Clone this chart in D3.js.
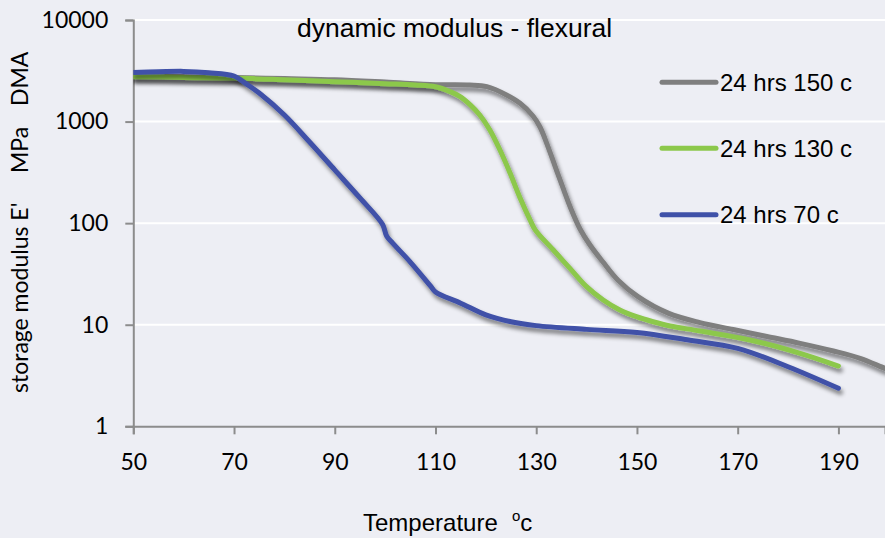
<!DOCTYPE html>
<html>
<head>
<meta charset="utf-8">
<script src="https://cdn.jsdelivr.net/npm/d3@7"></script>
<style>
  html, body { margin: 0; padding: 0; background: #EDEEF4; }
  svg { display: block; }
</style>
</head>
<body>
<svg id="chart" width="885" height="538"></svg>
<script>
// Storage modulus E' (MPa) against temperature (°C), log scale
const tempsGray  = [50, 60, 70, 80, 90, 100, 110, 116.8, 120.2, 124.1, 126.8, 129.36, 130.75, 132.14, 133.73, 135.32, 136.91, 138.7, 140.68, 143.26, 146.2, 150.2, 156.2, 162.5, 169.1, 175.8, 182.4, 189, 194.3, 199.2, 201];
const modGray    = [2800, 2760, 2720, 2650, 2580, 2450, 2310, 2290, 2205, 1827, 1513, 1134, 884, 601, 365, 222, 138, 87.6, 60.9, 41.4, 27.6, 18.9, 13.0, 10.5, 8.97, 7.66, 6.56, 5.51, 4.67, 3.72, 3.45];

const tempsGreen = [50, 60, 70, 80, 90, 100, 106, 110, 112.9, 114.9, 116.9, 118.8, 120.8, 122.8, 124.8, 126.8, 128.8, 129.8, 133.4, 136.7, 140.0, 143.3, 146.6, 149.9, 153.2, 156.6, 162.5, 172.4, 182.4, 190];
const modGreen   = [2770, 2720, 2680, 2580, 2470, 2360, 2290, 2200, 1970, 1760, 1460, 1160, 826, 525, 312, 177, 107, 86, 54.4, 35.9, 23.7, 17.5, 13.96, 12.0, 10.7, 9.71, 8.68, 7.08, 5.23, 3.92];

const tempsBlue  = [50, 55, 60, 65, 70, 72.5, 75, 80, 85, 90, 95, 99.5, 100.3, 101.5, 105, 109, 110, 115, 120, 125, 130, 140, 150, 160, 170, 180, 190];
const modBlue    = [3050, 3090, 3120, 3030, 2810, 2340, 1910, 1160, 629, 334, 177, 97, 74.7, 63.6, 41.4, 24.1, 21, 16.3, 12.5, 10.7, 9.8, 9.0, 8.4, 7.1, 5.85, 3.86, 2.37];

const seriesNames  = ["24 hrs 150 c", "24 hrs 130 c", "24 hrs 70 c"];
const seriesColors = ["#7F7F7F", "#8CC84B", "#3F51A8"];

const xTicks = [50, 70, 90, 110, 130, 150, 170, 190];
const yTicks = [1, 10, 100, 1000, 10000];

const series = [
  { name: seriesNames[0], color: seriesColors[0], t: tempsGray,  v: modGray },
  { name: seriesNames[1], color: seriesColors[1], t: tempsGreen, v: modGreen },
  { name: seriesNames[2], color: seriesColors[2], t: tempsBlue,  v: modBlue }
];

const W = 885, H = 538;
const plotLeft = 133.3, plotRight = 885, plotTop = 20, plotBottom = 426.3;

const svg = d3.select("#chart");

const x = d3.scaleLinear().domain([50, 199.25]).range([plotLeft, plotRight]);
const y = d3.scaleLog().domain([1, 10000]).range([plotBottom, plotTop]);

const defs = svg.append("defs");
const f = defs.append("filter").attr("id", "shadow")
  .attr("x", "-10%").attr("y", "-10%").attr("width", "130%").attr("height", "140%");
f.append("feGaussianBlur").attr("in", "SourceAlpha").attr("stdDeviation", 2.2).attr("result", "b");
f.append("feOffset").attr("in", "b").attr("dx", 2).attr("dy", 4).attr("result", "o");
f.append("feComponentTransfer").attr("in", "o").attr("result", "s")
  .append("feFuncA").attr("type", "linear").attr("slope", 0.5);
const m = f.append("feMerge");
m.append("feMergeNode").attr("in", "s");
m.append("feMergeNode").attr("in", "SourceGraphic");

defs.append("clipPath").attr("id", "plot")
  .append("rect").attr("x", plotLeft).attr("y", 0).attr("width", plotRight - plotLeft).attr("height", plotBottom + 10);

svg.append("rect").attr("width", W).attr("height", H).attr("fill", "#EDEEF4");

// horizontal gridlines
svg.append("g")
  .selectAll("line")
  .data(yTicks.slice(1))
  .join("line")
  .attr("x1", plotLeft).attr("x2", plotRight)
  .attr("y1", d => y(d)).attr("y2", d => y(d))
  .attr("stroke", "#FFFFFF").attr("stroke-width", 2);

// axes
const axisColor = "#8C8C8C";
const tickFont = "Lato, 'Open Sans', sans-serif";

const yAxis = svg.append("g")
  .attr("transform", `translate(${plotLeft},0)`)
  .call(d3.axisLeft(y).tickValues(yTicks).tickFormat(d3.format("d")).tickSizeOuter(0).tickSize(8).tickPadding(17));
yAxis.select(".domain").attr("stroke", axisColor).attr("stroke-width", 2);
yAxis.selectAll(".tick line").attr("stroke", axisColor).attr("stroke-width", 2);
yAxis.selectAll(".tick text").attr("font-family", tickFont).attr("font-size", 23).attr("fill", "#000");

const xAxis = svg.append("g")
  .attr("transform", `translate(0,${plotBottom})`)
  .call(d3.axisBottom(x).tickValues(xTicks).tickFormat(d3.format("d")).tickSizeOuter(0).tickSize(8).tickPadding(19));
xAxis.select(".domain").attr("stroke", axisColor).attr("stroke-width", 2);
xAxis.selectAll(".tick line").attr("stroke", axisColor).attr("stroke-width", 2);
xAxis.selectAll(".tick text").attr("font-family", tickFont).attr("font-size", 23).attr("fill", "#000");

// curves
const line = d3.line()
  .x(d => x(d[0]))
  .y(d => y(d[1]))
  .curve(d3.curveCatmullRom.alpha(0.5));

svg.append("g").attr("clip-path", "url(#plot)")
  .selectAll("path")
  .data(series)
  .join("path")
  .attr("d", s => line(d3.zip(s.t, s.v)))
  .attr("fill", "none")
  .attr("stroke", s => s.color)
  .attr("stroke-width", 5)
  .attr("stroke-linecap", "round")
  .attr("stroke-linejoin", "round")
  .attr("filter", "url(#shadow)");

// title
svg.append("text")
  .attr("x", 297).attr("y", 37)
  .attr("font-family", "'Liberation Sans', Arial, sans-serif")
  .attr("font-size", 26.5)
  .attr("fill", "#000")
  .text("dynamic modulus - flexural");

// legend
const legendY = [82.3, 148.3, 214.7];
const lg = svg.append("g").selectAll("g").data(series).join("g")
  .attr("transform", (d, i) => `translate(0,${legendY[i]})`);
lg.append("line")
  .attr("x1", 662).attr("x2", 716)
  .attr("stroke", d => d.color).attr("stroke-width", 5).attr("stroke-linecap", "round");
lg.append("text")
  .attr("x", 720).attr("y", 8.5)
  .attr("font-family", "'Liberation Sans', Arial, sans-serif")
  .attr("font-size", 24)
  .attr("fill", "#000")
  .text(d => d.name);

// axis titles
const yTitle = svg.append("text")
  .attr("transform", "translate(28,0) rotate(-90)")
  .attr("font-family", tickFont)
  .attr("font-size", 23)
  .attr("fill", "#000");
yTitle.append("tspan").attr("x", -393).text("storage modulus  E'");
yTitle.append("tspan").attr("x", -173).text("MPa");
yTitle.append("tspan").attr("x", -106).text("DMA");

const xTitle = svg.append("text")
  .attr("x", 363).attr("y", 531)
  .attr("font-family", "'Liberation Sans', Arial, sans-serif")
  .attr("font-size", 24)
  .attr("fill", "#000");
xTitle.append("tspan").text("Temperature");
xTitle.append("tspan").attr("x", 512).attr("font-size", 15).attr("dy", -10).text("o");
xTitle.append("tspan").attr("dy", 10).text("c");
</script>
</body>
</html>
